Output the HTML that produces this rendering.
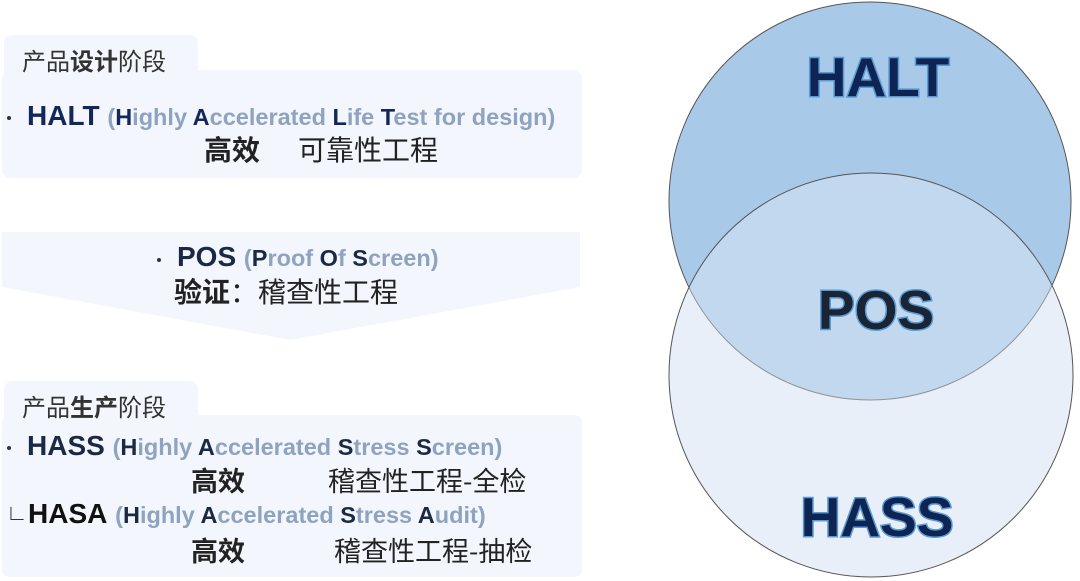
<!DOCTYPE html>
<html><head><meta charset="utf-8"><style>
body{margin:0;width:1080px;height:581px;background:#fff;position:relative;overflow:hidden;font-family:"Liberation Sans","Noto Sans CJK SC",sans-serif}
.a{position:absolute;white-space:nowrap}
.box{position:absolute;background:#f3f6fc;border-radius:8px}
.g{color:#8ea3bf;font-weight:bold}
.d{color:#1b2a44;font-weight:bold}
.n{color:#13275a;font-weight:bold}
.cj{font-family:"Noto Sans CJK SC",sans-serif;color:#222}
.dot{position:absolute;width:4px;height:4px;background:#333;border-radius:2px}
</style></head><body>
<div class="box" style="left:4px;top:35px;width:194px;height:45px"></div>
<div class="box" style="left:2px;top:70px;width:580px;height:108px"></div>
<div class="a cj" style="left:22px;top:42px;font-size:24px;color:#333">产品<b>设计</b>阶段</div>
<div class="dot" style="left:7px;top:116px"></div>
<div class="a" style="left:27px;top:100px;font-size:28px"><span class="n">HALT</span> <span style="font-size:23.5px"><span class="g">(</span><span class="n">H</span><span class="g">ighly </span><span class="n">A</span><span class="g">ccelerated </span><span class="n">L</span><span class="g">ife </span><span class="n">T</span><span class="g">est for design)</span></span></div>
<div class="a cj" style="left:204px;top:129px;font-size:28px"><b>高效</b><span style="position:absolute;left:94px">可靠性工程</span></div>

<svg class="a" style="left:0;top:0" width="600" height="581"><polygon points="2,232 580,232 580,287 290,340 2,287" fill="#f3f6fc"/></svg>
<div class="dot" style="left:157px;top:258px"></div>
<div class="a" style="left:177px;top:241px;font-size:28px"><span class="d">POS</span> <span style="font-size:23.5px"><span class="g">(</span><span class="d">P</span><span class="g">roof </span><span class="d">O</span><span class="g">f </span><span class="d">S</span><span class="g">creen)</span></span></div>
<div class="a cj" style="left:174px;top:271px;font-size:28px"><b>验证</b>：稽查性工程</div>

<div class="box" style="left:4px;top:381px;width:194px;height:45px"></div>
<div class="box" style="left:2px;top:415px;width:580px;height:162px"></div>
<div class="a cj" style="left:22px;top:388px;font-size:24px;color:#333">产品<b>生产</b>阶段</div>
<div class="dot" style="left:7px;top:446px"></div>
<div class="a" style="left:27px;top:430px;font-size:28px"><span class="d">HASS</span> <span style="font-size:23.5px"><span class="g">(</span><span class="d">H</span><span class="g">ighly </span><span class="d">A</span><span class="g">ccelerated </span><span class="d">S</span><span class="g">tress </span><span class="d">S</span><span class="g">creen)</span></span></div>
<div class="a cj" style="left:191px;top:460px;font-size:27px"><b>高效</b></div>
<div class="a cj" style="left:328px;top:460px;font-size:27px">稽查性工程-全检</div>
<div class="a" style="left:6px;top:500px;font-size:22px;color:#333">∟</div>
<div class="a" style="left:28px;top:498px;font-size:28px"><span class="d" style="color:#111">HASA</span> <span style="font-size:23.5px"><span class="g">(</span><span class="d">H</span><span class="g">ighly </span><span class="d">A</span><span class="g">ccelerated </span><span class="d">S</span><span class="g">tress </span><span class="d">A</span><span class="g">udit)</span></span></div>
<div class="a cj" style="left:191px;top:530px;font-size:27px"><b>高效</b></div>
<div class="a cj" style="left:334px;top:530px;font-size:27px">稽查性工程-抽检</div>

<svg class="a" style="left:0;top:0" width="1080" height="581">
<ellipse cx="871" cy="375" rx="202" ry="202" fill="#e9eff8"/>
<ellipse cx="870" cy="201" rx="201" ry="199" fill="#a9c9e8" stroke="#555" stroke-width="1"/>
<ellipse cx="871" cy="375" rx="202" ry="202" fill="#e9eff8" fill-opacity="0.4" stroke="#555" stroke-width="1"/>
<g font-family="Liberation Sans,sans-serif" font-weight="bold" font-size="55" text-anchor="middle" stroke="#5b9bd5" stroke-width="3" paint-order="stroke">
<text x="878" y="96" fill="#0e2452">HALT</text>
<text x="876" y="329" fill="#1a2433">POS</text>
<text x="877" y="536" fill="#0e2452">HASS</text>
</g>
</svg>
</body></html>
